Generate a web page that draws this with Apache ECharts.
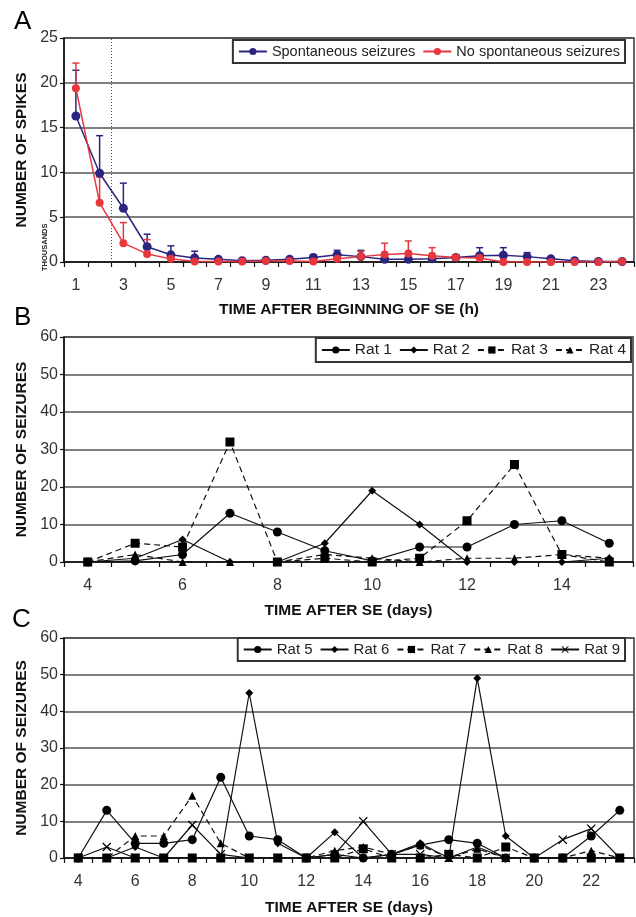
<!DOCTYPE html>
<html lang="en">
	<head>
		<meta charset="UTF-8">
		<title>Spikes and seizures after SE</title>
		<style type="text/css">
			html,
			body {
				width: 100%;
				height: 100%;
				margin: 0;
				padding: 0;
				background: #fff;
			}

			#main {
				width: 636px;
				height: 917px;
			}
		</style>
	</head>
	<body>
		<div id="main"></div>

		<script src="https://cdn.jsdelivr.net/npm/echarts@6/dist/echarts.min.js" type="text/javascript" charset="utf-8"></script>
		<script type="text/javascript">
			// panel A: spikes per hour (thousands)
			let hours = ['1', '2', '3', '4', '5', '6', '7', '8', '9', '10', '11', '12', '13', '14', '15', '16', '17', '18', '19', '20', '21', '22', '23', '24'];
			let spont = [16.3, 9.9, 6.0, 1.7, 0.8, 0.45, 0.3, 0.15, 0.2, 0.3, 0.5, 0.8, 0.6, 0.3, 0.3, 0.35, 0.5, 0.7, 0.75, 0.6, 0.35, 0.15, 0.05, 0.05];
			let spontErr = [21.4, 14.1, 8.8, 3.1, 1.8, 1.2, 0.45, 0.2, 0.3, 0.4, 0.8, 1.3, 1.3, 0.5, 0.4, 0.5, 0.7, 1.6, 1.6, 1.05, 0.5, 0.25, 0.1, 0.1];
			let noSpont = [19.4, 6.6, 2.1, 0.9, 0.35, 0.05, 0.05, 0.05, 0.1, 0.1, 0.05, 0.35, 0.6, 0.85, 0.95, 0.7, 0.5, 0.45, 0, 0, 0, 0, 0, 0.05];
			let noSpontErr = [22.2, 9.5, 4.4, 2.5, 0.6, 0.1, 0.1, 0.1, 0.15, 0.15, 0.1, 0.5, 1.2, 2.1, 2.35, 1.6, 0.8, 0.6, 0, 0, 0, 0, 0, 0.1];

			// panel B: seizures per day, rats 1-4
			let daysB = ['4', '5', '6', '7', '8', '9', '10', '11', '12', '13', '14', '15'];
			let rat1 = [0, 0.3, 2, 13, 8, 3, 0.3, 4, 4, 10, 11, 5];
			let rat2 = [0, 1, 6, 0, 0, 5, 19, 10, 0, 0, 0, 1];
			let rat3 = [0, 5, 4, 32, 0, 1, 0, 1, 11, 26, 2, 0];
			let rat4 = [0, 2, 0, 0, 0, 2, 1, 0, 1, 1, 2, 1];

			// panel C: seizures per day, rats 5-9
			let daysC = ['4', '5', '6', '7', '8', '9', '10', '11', '12', '13', '14', '15', '16', '17', '18', '19', '20', '21', '22', '23'];
			let rat5 = [0, 13, 4, 4, 5, 22, 6, 5, 0, 1, 0, 1, 3.5, 5, 4, 0, 0, 0, 6, 13];
			let rat6 = [0, 0, 3, 0, 0, 0, 45, 4, 0, 7, 0, 1, 4, 0, 49, 6, 0, 0, 0, 0];
			let rat7 = [0, 0, 0, 0, 0, 0, 0, 0, 0, 0, 2.5, 0, 0, 1, 0, 3, 0, 0, 0, 0];
			let rat8 = [0, 0, 6, 6, 17, 4, 0, 0, 0, 2, 3, 1, 3.5, 0, 2.5, 0, 0, 0, 2, 0];
			let rat9 = [0, 3, 0, 0, 9, 1, 0, 0, 0, 1, 10, 1, 1, 0, 3, 0, 0, 5, 8, 0];

			let font = 'Liberation Sans';
			let navy = '#2b2580';
			let red = '#e8363c';
			let cross = 'path://M0,1L1,0L5,4L9,0L10,1L6,5L10,9L9,10L5,6L1,10L0,9L4,5Z';

			function errorBars(color) {
				return function(params, api) {
					let i = api.value(0);
					if (api.value(2) <= api.value(1)) return;
					let lo = api.coord([i, api.value(1)]);
					let hi = api.coord([i, api.value(2)]);
					let style = { stroke: color, lineWidth: 1.5 };
					return {
						type: 'group',
						children: [
							{ type: 'line', shape: { x1: lo[0], y1: lo[1], x2: hi[0], y2: hi[1] }, style },
							{ type: 'line', shape: { x1: hi[0] - 3.5, y1: hi[1], x2: hi[0] + 3.5, y2: hi[1] }, style }
						]
					};
				};
			}

			function xAxisFor(idx, data, name, gap) {
				return {
					type: 'category',
					gridIndex: idx,
					data: data,
					boundaryGap: true,
					name: name,
					nameLocation: 'middle',
					nameGap: gap,
					nameTextStyle: { fontFamily: font, fontSize: 15.5, fontWeight: 'bold', color: '#111' },
					axisLine: { lineStyle: { color: '#111', width: 1.5 } },
					axisTick: { show: true, interval: 0, length: 5, lineStyle: { color: '#111', width: 1.2 } },
					axisLabel: { interval: 1, fontFamily: font, fontSize: 16, color: '#333', margin: 16 },
					splitLine: { show: false }
				};
			}

			function yAxisFor(idx, max, step, name) {
				return {
					type: 'value',
					gridIndex: idx,
					min: 0,
					max: max,
					interval: step,
					name: name,
					nameLocation: 'middle',
					nameGap: 33,
					nameTextStyle: { fontFamily: font, fontSize: 15.5, fontWeight: 'bold', color: '#111' },
					axisLine: { show: true, lineStyle: { color: '#111', width: 1.5 } },
					axisTick: { show: true, length: 4, lineStyle: { color: '#111', width: 1.2 } },
					axisLabel: { fontFamily: font, fontSize: 16, color: '#333', margin: 6 },
					splitLine: { lineStyle: { color: '#555', width: 1.5 } }
				};
			}

			function legendFor(names, top, right, size) {
				return {
					data: names,
					top: top,
					right: right,
					orient: 'horizontal',
					itemWidth: 28,
					itemHeight: 9,
					itemGap: 7,
					padding: [4, 5],
					borderColor: '#333',
					borderWidth: 2,
					textStyle: { fontFamily: font, fontSize: size, color: '#222' },
					selectedMode: false
				};
			}

			function ratSeries(name, data, symbol, size, dashed, gi) {
				return {
					name: name,
					type: 'line',
					xAxisIndex: gi,
					yAxisIndex: gi,
					data: data,
					symbol: symbol,
					symbolSize: size,
					showAllSymbol: true,
					itemStyle: { color: '#000' },
					lineStyle: { color: '#111', width: 1.2, type: dashed ? [6, 4] : 'solid' },
					emphasis: { disabled: true }
				};
			}

			var myChart = echarts.init(document.getElementById('main'));
			var option = {
				animation: false,
				backgroundColor: '#fff',
				grid: [
					{ left: 64, top: 38, width: 570, height: 224, show: true, borderColor: '#333', borderWidth: 1.5 },
					{ left: 64, top: 337, width: 569, height: 225, show: true, borderColor: '#333', borderWidth: 1.5 },
					{ left: 64, top: 638, width: 570, height: 224, show: true, borderColor: '#333', borderWidth: 1.5 }
				],
				xAxis: [
					xAxisFor(0, hours, 'TIME AFTER BEGINNING OF SE (h)', 40),
					xAxisFor(1, daysB, 'TIME AFTER SE (days)', 41),
					xAxisFor(2, daysC, 'TIME AFTER SE (days)', 42)
				],
				yAxis: [
					yAxisFor(0, 25, 5, 'NUMBER OF SPIKES'),
					yAxisFor(1, 60, 10, 'NUMBER OF SEIZURES'),
					yAxisFor(2, 60, 10, 'NUMBER OF SEIZURES')
				],
				legend: [
					legendFor(['Spontaneous seizures', 'No spontaneous seizures'], 40, 11, 14.5),
					legendFor(['Rat 1', 'Rat 2', 'Rat 3', 'Rat 4'], 338, 5, 15.5),
					legendFor(['Rat 5', 'Rat 6', 'Rat 7', 'Rat 8', 'Rat 9'], 638, 11, 15)
				],
				graphic: [
					{ type: 'text', left: 14, top: 9, style: { text: 'A', font: '26px "Liberation Sans"', fill: '#000' } },
					{ type: 'text', left: 14, top: 305, style: { text: 'B', font: '26px "Liberation Sans"', fill: '#000' } },
					{ type: 'text', left: 12, top: 607, style: { text: 'C', font: '26px "Liberation Sans"', fill: '#000' } },
					{
						type: 'text', x: 41, y: 271, rotation: Math.PI / 2,
						style: { text: 'THOUSANDS', font: 'bold 7.5px "Liberation Sans"', fill: '#222' }
					}
				],
				series: [
					{
						// dotted marker between hour 2 and hour 3
						type: 'custom',
						xAxisIndex: 0,
						yAxisIndex: 0,
						data: [[1, 0, 25]],
						silent: true,
						renderItem: function(params, api) {
							let a = api.coord([api.value(0), api.value(1)]);
							let b = api.coord([api.value(0) + 1, api.value(2)]);
							let x = (a[0] + b[0]) / 2;
							return {
								type: 'line',
								shape: { x1: x, y1: a[1], x2: x, y2: b[1] },
								style: { stroke: '#3a4ab0', lineWidth: 1, lineDash: [1, 2] }
							};
						}
					},
					{
						name: 'Spontaneous seizures',
						type: 'line',
						xAxisIndex: 0,
						yAxisIndex: 0,
						data: spont,
						symbol: 'circle',
						symbolSize: 9,
						itemStyle: { color: navy },
						lineStyle: { color: navy, width: 1.5 }
					},
					{
						name: 'No spontaneous seizures',
						type: 'line',
						xAxisIndex: 0,
						yAxisIndex: 0,
						data: noSpont,
						symbol: 'circle',
						symbolSize: 8,
						itemStyle: { color: red },
						lineStyle: { color: red, width: 1.5 }
					},
					{
						type: 'custom',
						xAxisIndex: 0,
						yAxisIndex: 0,
						data: spont.map((v, i) => [i, v, spontErr[i]]),
						renderItem: errorBars(navy),
						z: 3
					},
					{
						type: 'custom',
						xAxisIndex: 0,
						yAxisIndex: 0,
						data: noSpont.map((v, i) => [i, v, noSpontErr[i]]),
						renderItem: errorBars(red),
						z: 3
					},
					ratSeries('Rat 1', rat1, 'circle', 9, false, 1),
					ratSeries('Rat 2', rat2, 'diamond', 8, false, 1),
					ratSeries('Rat 3', rat3, 'rect', 9, true, 1),
					ratSeries('Rat 4', rat4, 'triangle', 8, true, 1),
					ratSeries('Rat 5', rat5, 'circle', 9, false, 2),
					ratSeries('Rat 6', rat6, 'diamond', 8, false, 2),
					ratSeries('Rat 7', rat7, 'rect', 9, true, 2),
					ratSeries('Rat 8', rat8, 'triangle', 8, true, 2),
					ratSeries('Rat 9', rat9, cross, 9, false, 2)
				]
			};

			myChart.setOption(option);

			window.onresize = function() {
				myChart.resize();
			}
		</script>
	</body>
</html>
